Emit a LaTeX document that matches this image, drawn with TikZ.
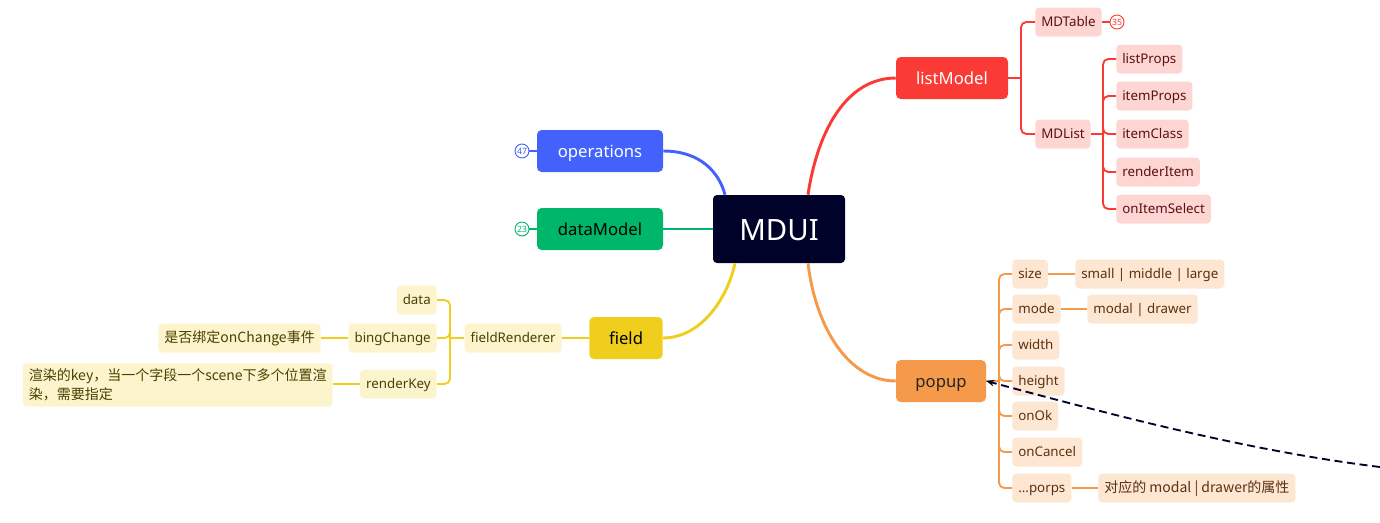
\documentclass[tikz,border=0pt]{standalone}
\usepackage{fontspec}
\setmainfont{Noto Sans}
\newfontfamily\cjk{Noto Sans CJK SC}
\usetikzlibrary{arrows.meta}

\definecolor{mdnavy}{HTML}{000229}
\definecolor{opblue}{HTML}{4262FB}
\definecolor{dmgreen}{HTML}{00B66B}
\definecolor{fdyellow}{HTML}{F0CE1E}
\definecolor{fdlight}{HTML}{FCF4CD}
\definecolor{fdtext}{HTML}{4A4000}
\definecolor{lmred}{HTML}{FA3B35}
\definecolor{lmlight}{HTML}{FDD6D4}
\definecolor{lmtext}{HTML}{5C1010}
\definecolor{pporange}{HTML}{F59A4A}
\definecolor{pplight}{HTML}{FDE6D2}
\definecolor{pptext}{HTML}{5B320E}

\tikzset{
  root/.style={fill=mdnavy, text=white, rounded corners=3pt, minimum width=99pt,
    minimum height=51pt, text height=17pt, text depth=0pt, font=\fontsize{22}{26}\selectfont},
  topic/.style={rounded corners=3.5pt, minimum height=31.5pt, inner sep=0pt,
    text height=11pt, text depth=1.5pt, font=\fontsize{12.5}{14}\selectfont},
  sub/.style={rounded corners=3pt, minimum height=21.75pt, inner xsep=4.5pt,
    inner ysep=1pt, text height=8.6pt, text depth=1.2pt, font=\fontsize{10}{12}\selectfont},
  cjknote/.style={font=\cjk\fontsize{10.5}{14.5}\selectfont},
  badge/.style={circle, draw, fill=white, inner sep=0pt, minimum size=10.5pt,
    line width=0.7pt, font=\fontsize{6.5}{7}\selectfont},
  branch/.style={line width=2.2pt},
  twig/.style={line width=1.4pt, rounded corners=4pt}
}

\begin{document}
\begin{tikzpicture}[x=0.75pt, y=-0.75pt]
  \useasboundingbox (0,0) rectangle (1380,522);

  %% centre and main topics
  \node [root] (mdui) at (779,229) {MDUI};
  \node [topic, fill=opblue, text=white, minimum width=94.5pt] (operations) at (600,151) {operations};
  \node [topic, fill=dmgreen, text=black, minimum width=94.5pt] (dataModel) at (600,229) {dataModel};
  \node [topic, fill=fdyellow, text=black, minimum width=55pt] (field) at (626,338) {field};
  \node [topic, fill=lmred, text=white, minimum width=84pt] (listModel) at (952,78) {listModel};
  \node [topic, fill=pporange, text=black!85, minimum width=67.5pt] (popup) at (941,381) {popup};

  \node [badge, draw=opblue, text=opblue] (b47) at (522,151) {47};
  \node [badge, draw=dmgreen, text=dmgreen] (b23) at (522,229) {23};
  \draw [opblue, line width=1.1pt] (b47) -- (operations);
  \draw [dmgreen, line width=1.1pt] (b23) -- (dataModel);

  \draw [branch, opblue] (operations.east) .. controls (700,151) and (719,172) .. ([xshift=-40.5pt]mdui.north);
  \draw [branch, dmgreen] (dataModel.east) -- (mdui.west);
  \draw [branch, fdyellow] ([xshift=-33pt]mdui.south) .. controls (727,300) and (700,338) .. (field.east);
  \draw [branch, lmred] ([xshift=21.75pt]mdui.north) .. controls (818,128) and (848,78) .. (listModel.west);
  \draw [branch, pporange] ([xshift=21.75pt]mdui.south) .. controls (816,330) and (850,381) .. (popup.west);

  %% field
  \node [sub, fill=fdlight, text=fdtext, anchor=east] (fieldRenderer) at (562,338) {fieldRenderer};
  \node [sub, fill=fdlight, text=fdtext, anchor=east] (data) at (437,300) {data};
  \node [sub, fill=fdlight, text=fdtext, anchor=east] (bingChange) at (437,338) {bingChange};
  \node [sub, fill=fdlight, text=fdtext, anchor=east] (renderKey) at (437,384) {renderKey};
  \node [sub, cjknote, fill=fdlight, text=fdtext, anchor=east] (bcnote) at (321,338) {是否绑定onChange事件};
  \node [sub, cjknote, fill=fdlight, text=fdtext, anchor=east, align=left, inner ysep=4pt,
    text height=, text depth=] (rknote) at (333,385)
    {渲染的key，当一个字段一个scene下多个位置渲\\染，需要指定};
  \coordinate (frfork) at (450,338);
  \draw [twig, fdyellow] (field.west) -- (fieldRenderer.east);
  \draw [twig, fdyellow] (fieldRenderer.west) -- (frfork);
  \foreach \n in {data,bingChange,renderKey}
    \draw [twig, fdyellow] (frfork) |- (\n.east);
  \draw [twig, fdyellow] (bingChange.west) -- (bcnote.east);
  \draw [twig, fdyellow] (renderKey.west) -- (rknote.east |- renderKey.west);

  %% listModel
  \node [sub, fill=lmlight, text=lmtext, anchor=west] (mdtable) at (1035,22) {MDTable};
  \node [sub, fill=lmlight, text=lmtext, anchor=west] (mdlist) at (1035,134) {MDList};
  \node [badge, draw=lmred, text=lmred] (b35) at (1117,22) {35};
  \draw [lmred, line width=1.1pt] (mdtable) -- (b35);
  \coordinate (lmfork) at (1021,78);
  \draw [twig, lmred] (listModel.east) -- (lmfork);
  \foreach \n in {mdtable,mdlist}
    \draw [twig, lmred] (lmfork) |- (\n.west);
  \coordinate (mlfork) at (1103,134);
  \foreach \n/\y in {listProps/59, itemProps/96, itemClass/134, renderItem/172, onItemSelect/209} {
    \node [sub, fill=lmlight, text=lmtext, anchor=west] (\n) at (1116,\y) {\n};
    \draw [twig, lmred] (mlfork) |- (\n.west);
  }
  \draw [twig, lmred] (mdlist.east) -- (mlfork);

  %% popup
  \coordinate (pfork) at (999,381);
  \draw [twig, pporange] (popup.east) -- (pfork);
  \foreach \n/\y in {size/274, mode/309, width/345, height/381, onOk/416, onCancel/452} {
    \node [sub, fill=pplight, text=pptext, anchor=west] (\n) at (1012,\y) {\n};
    \draw [twig, pporange] (pfork) |- (\n.west);
  }
  \node [sub, fill=pplight, text=pptext, anchor=west] (porps) at (1012,488) {.{}.{}.porps};
  \draw [twig, pporange] (pfork) |- (porps.west);
  \node [sub, fill=pplight, text=pptext, anchor=west] (sizeval) at (1075,274) {small | middle | large};
  \node [sub, fill=pplight, text=pptext, anchor=west] (modeval) at (1087,309) {modal | drawer};
  \node [sub, cjknote, fill=pplight, text=pptext, anchor=west] (porpsval) at (1098,488) {对应的 modal | drawer的属性};
  \draw [twig, pporange] (size.east) -- (sizeval.west);
  \draw [twig, pporange] (mode.east) -- (modeval.west);
  \draw [twig, pporange] (porps.east) -- (porpsval.west);

  %% relation line
  \coordinate (relend) at (1380,467);
  \draw [mdnavy, line width=1.4pt, dash pattern=on 6pt off 3.5pt, -{Stealth[length=6pt,width=5pt]}]
    (relend) .. controls (1250,451) and (1120,417) .. (popup.east);
\end{tikzpicture}
\end{document}
